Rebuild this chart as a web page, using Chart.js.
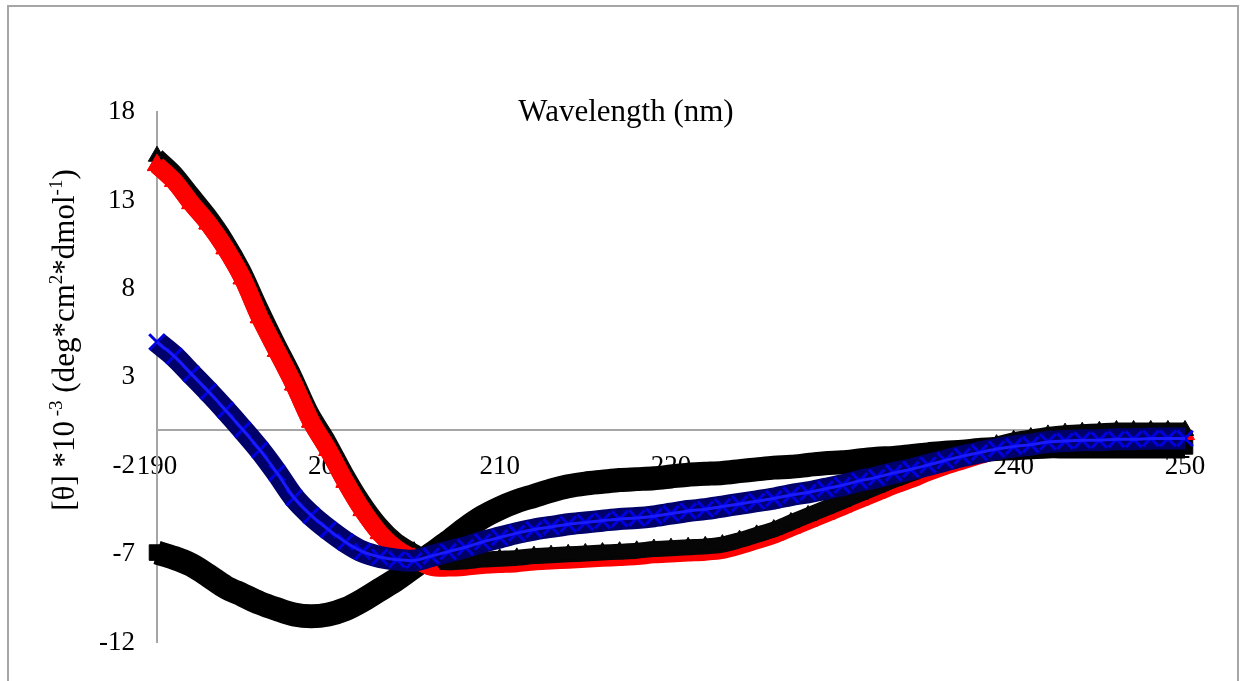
<!DOCTYPE html>
<html><head><meta charset="utf-8">
<script src="https://cdn.jsdelivr.net/npm/chart.js@4.4.1/dist/chart.umd.min.js"></script>
<style>html,body{margin:0;padding:0;background:#fff;overflow:hidden}#wrap{position:absolute;left:0;top:0;width:1242px;height:681px}</style>
</head><body><div id="wrap"><canvas id="c" width="1242" height="681"></canvas></div>
<script>
// ---- data ----
const wavelengths = [190,191,192,193,194,195,196,197,198,199,200,201,202,203,204,205,206,207,208,209,210,211,212,213,214,215,216,217,218,219,220,221,222,223,224,225,226,227,228,229,230,231,232,233,234,235,236,237,238,239,240,241,242,243,244,245,246,247,248,249,250];
const redSeries = [15.0,14.1,12.85,11.7,10.3,8.6,6.4,4.5,2.6,0.5,
  -1.1,-2.9,-4.5,-5.8,-6.7,-7.25,-7.7,-7.75,-7.7,-7.6,
  -7.55,-7.5,-7.4,-7.35,-7.3,-7.25,-7.2,-7.15,-7.1,-7.0,
  -6.95,-6.9,-6.85,-6.75,-6.5,-6.2,-5.9,-5.5,-5.1,-4.7,
  -4.3,-3.9,-3.5,-3.1,-2.75,-2.35,-2.0,-1.7,-1.4,-1.1,
  -0.85,-0.7,-0.55,-0.45,-0.4,-0.35,-0.3,-0.25,-0.2,-0.2,-0.2];
const blackTwinSeries = [15.5,14.6,13.4,12.2,10.8,9.1,7.0,5.0,3.1,1.0,
  -0.6,-2.4,-4.0,-5.3,-6.25,-6.85,-7.35,-7.45,-7.4,-7.3,
  -7.25,-7.2,-7.1,-7.05,-7.0,-6.95,-6.9,-6.85,-6.8,-6.7,
  -6.65,-6.6,-6.55,-6.45,-6.2,-5.9,-5.6,-5.2,-4.8,-4.4,
  -4.0,-3.6,-3.2,-2.8,-2.45,-2.05,-1.7,-1.4,-1.1,-0.8,
  -0.55,-0.4,-0.25,-0.15,-0.1,-0.05,0.0,0.0,0.0,0.0,0.0];
const blueSeries = [5.0,4.2,3.2,2.2,1.15,0.05,-1.1,-2.4,-3.8,-4.8,
  -5.6,-6.3,-6.85,-7.15,-7.3,-7.35,-7.1,-6.85,-6.6,-6.3,
  -6.05,-5.8,-5.6,-5.45,-5.3,-5.2,-5.1,-5.0,-4.95,-4.85,
  -4.7,-4.55,-4.45,-4.3,-4.15,-4.0,-3.85,-3.65,-3.5,-3.3,
  -3.1,-2.85,-2.65,-2.4,-2.2,-1.95,-1.7,-1.45,-1.25,-1.05,
  -0.9,-0.8,-0.65,-0.6,-0.55,-0.55,-0.5,-0.5,-0.45,-0.45,-0.45];
const blackSeries = [-6.9,-7.2,-7.6,-8.2,-8.85,-9.3,-9.75,-10.1,-10.4,-10.5,
  -10.4,-10.1,-9.6,-9.0,-8.4,-7.7,-7.0,-6.3,-5.55,-4.9,
  -4.4,-4.0,-3.7,-3.4,-3.15,-3.0,-2.9,-2.8,-2.75,-2.7,
  -2.6,-2.5,-2.45,-2.4,-2.3,-2.2,-2.1,-2.05,-1.95,-1.85,
  -1.8,-1.7,-1.6,-1.55,-1.45,-1.35,-1.25,-1.2,-1.1,-1.05,
  -1.0,-0.95,-0.9,-0.9,-0.9,-0.9,-0.9,-0.9,-0.9,-0.9,-0.9];
const xTickValues = [190,200,210,220,230,240,250];
const yTickValues = [-12,-7,-2,3,8,13,18];
const xTitle = 'Wavelength (nm)';
const yTitleParts = [['[θ] *10',0],[' -3',1],[' (deg*cm',0],['2',1],['*dmol',0],['-1',1],[')',0]];

// ---- build ----
const pts = arr => wavelengths.map((w,i)=>({x:w,y:arr[i]}));
const descentCount = 17; // 190..206

const decor = {
  id:'decor',
  beforeDraw(chart){
    const ctx = chart.ctx; ctx.save();
    ctx.fillStyle='#fff'; ctx.fillRect(0,0,chart.width,chart.height);
    ctx.strokeStyle='#a6a6a6'; ctx.lineWidth=2;
    ctx.strokeRect(8,6,1230,720);
    ctx.restore();
  },
  afterDraw(chart){
    const ctx = chart.ctx; ctx.save();
    ctx.fillStyle='#000';
    ctx.font='31px "Liberation Serif", "Times New Roman", serif';
    ctx.textAlign='center'; ctx.textBaseline='alphabetic';
    ctx.fillText(xTitle, 626, 121);
    const big = 31, small = 19;
    const fBig = big+'px "Liberation Serif", "Times New Roman", serif';
    const fSmall = small+'px "Liberation Serif", "Times New Roman", serif';
    let total = 0;
    yTitleParts.forEach(([t,s])=>{ ctx.font = s?fSmall:fBig; total += ctx.measureText(t).width; });
    ctx.translate(74, 340); ctx.rotate(-Math.PI/2);
    ctx.textAlign='left';
    let x = -total/2;
    yTitleParts.forEach(([t,s])=>{
      ctx.font = s?fSmall:fBig;
      ctx.fillText(t, x, s ? -12 : 0);
      x += ctx.measureText(t).width;
    });
    ctx.restore();
  }
};

const tickFont = {family:'"Liberation Serif", "Times New Roman", serif', size:27};

new Chart(document.getElementById('c'), {
  type:'line',
  data:{datasets:[
    {data:pts(blackSeries), borderColor:'#000', borderWidth:24, pointStyle:'rect', pointRadius:11, pointBorderWidth:1, pointBackgroundColor:'#000', pointBorderColor:'#000', order:6, clip:false},
    {data:pts(redSeries), borderColor:'#ff0000', borderWidth:18, pointStyle:'triangle', pointRadius:11, pointBorderWidth:1, pointBackgroundColor:'#ff0000', pointBorderColor:'#ff0000', order:5, clip:false},
    {data:pts(blackTwinSeries), borderColor:'#060606', borderWidth:16, pointStyle:'triangle', pointRadius:10, pointBorderWidth:1, pointBackgroundColor:'#060606', pointBorderColor:'#060606', order:4, clip:false},
    {data:pts(redSeries).slice(0,descentCount), borderColor:'#ff0000', borderWidth:18, pointStyle:'triangle', pointRadius:11, pointBorderWidth:1, pointBackgroundColor:'#ff0000', pointBorderColor:'#ff0000', order:3, clip:false},
    {data:pts(blueSeries), borderColor:'#00006a', borderWidth:22, pointStyle:'crossRot', pointRadius:11, pointBorderWidth:3, pointBackgroundColor:'#0000e0', pointBorderColor:'#0000e0', order:2, clip:false},
    {data:pts(blueSeries), borderColor:'#1a1aff', borderWidth:3, pointRadius:0, order:1, clip:false}
  ]},
  options:{
    responsive:false, animation:false, devicePixelRatio:1,
    layout:{padding:{left:0, top:112, right:57, bottom:31}},
    elements:{line:{tension:0.3}},
    plugins:{legend:{display:false}, tooltip:{enabled:false}, title:{display:false}},
    scales:{
      x:{type:'linear', position:{y:0}, min:190, max:250,
        grid:{display:false, drawTicks:false},
        border:{display:true, color:'#a6a6a6', width:2},
        ticks:{padding:20, color:'#000', font:tickFont, maxRotation:0, autoSkip:false},
        afterBuildTicks(s){ s.ticks = xTickValues.map(v=>({value:v})); }
      },
      y:{type:'linear', position:'left', min:-12, max:18,
        grid:{display:false, drawTicks:false},
        border:{display:true, color:'#a6a6a6', width:2},
        ticks:{padding:22, color:'#000', font:tickFont},
        afterBuildTicks(s){ s.ticks = yTickValues.map(v=>({value:v})); },
        afterFit(s){ s.width = 157; }
      }
    }
  },
  plugins:[decor]
});
</script>
</body></html>
